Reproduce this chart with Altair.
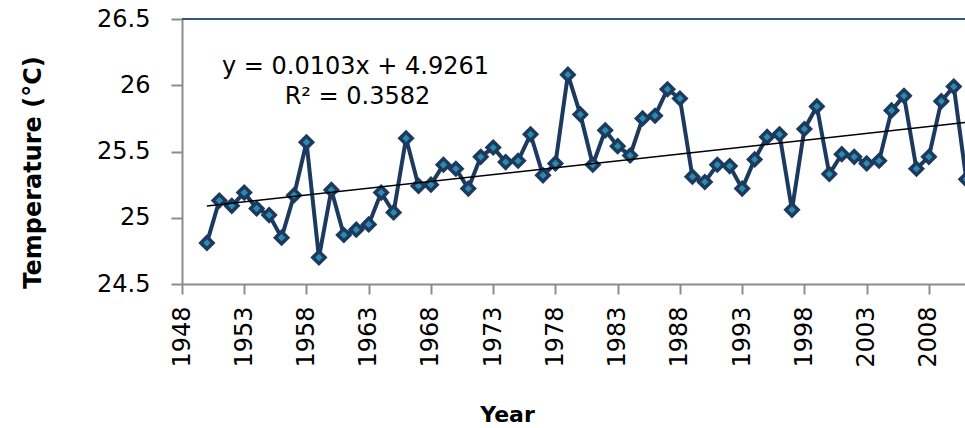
import altair as alt
import pandas as pd

# Annual mean temperature series
years = list(range(1950, 2012))
temps = [
    24.81, 25.13, 25.09, 25.19, 25.07, 25.02, 24.85, 25.17, 25.57, 24.70,
    25.21, 24.87, 24.91, 24.95, 25.19, 25.04, 25.60, 25.24, 25.25, 25.40,
    25.37, 25.22, 25.46, 25.53, 25.42, 25.43, 25.63, 25.32, 25.41, 26.08,
    25.78, 25.40, 25.66, 25.54, 25.47, 25.75, 25.77, 25.97, 25.90, 25.31,
    25.27, 25.40, 25.39, 25.22, 25.44, 25.61, 25.63, 25.06, 25.67, 25.84,
    25.33, 25.48, 25.46, 25.41, 25.43, 25.81, 25.92, 25.37, 25.46, 25.88,
    25.99, 25.29,
]
x_ticks = list(range(1948, 2009, 5))
y_ticks = [24.5, 25.0, 25.5, 26.0, 26.5]
eq_lines = ["y = 0.0103x + 4.9261", "R\u00b2 = 0.3582"]

df = pd.DataFrame({"Year": years, "Temp": temps})

W, H = 783, 265
FONT = "DejaVu Sans"
NAVY = "#1c3a5f"
TEAL = "#2b8caa"
GREY = "#8c8c8c"

x_scale = alt.Scale(domain=[1948, 2010.9], nice=False, zero=False)
y_scale = alt.Scale(domain=[24.5, 26.5], nice=False, zero=False)

x_enc = alt.X(
    "Year:Q", scale=x_scale,
    axis=alt.Axis(
        values=x_ticks, format="d", labelAngle=270, labelFontSize=24,
        labelFont=FONT, labelColor="#000000", labelPadding=12,
        tickSize=10, tickColor=GREY, tickWidth=2, domainColor=GREY,
        domainWidth=2, grid=False, title="Year", titleFont=FONT,
        titleFontSize=22, titleFontWeight="bold", titleColor="#000000",
        titleX=325, titleY=130, titleAlign="center", titleBaseline="middle",
        labelOverlap=False, labelFlush=False,
    ),
)
y_enc = alt.Y(
    "Temp:Q", scale=y_scale,
    axis=alt.Axis(
        values=y_ticks, format="~f", labelFontSize=24, labelFont=FONT,
        labelColor="#000000", labelPadding=21, tickSize=11, tickColor=GREY,
        tickWidth=2, domainColor=GREY, domainWidth=2, grid=False,
        title="Temperature (\u00b0C)", titleFont=FONT, titleFontSize=24,
        titleFontWeight="bold", titleColor="#000000", titleAngle=270,
        titleX=-149, titleY=153, titleAlign="center", titleBaseline="middle",
        labelOverlap=False, labelFlush=False,
    ),
)

base = alt.Chart(df)

line = base.mark_line(color=NAVY, strokeWidth=4, clip=True).encode(x=x_enc, y=y_enc)

points = base.mark_point(
    shape="diamond", filled=True, fill=TEAL, stroke=NAVY, strokeWidth=3.5,
    size=150, opacity=1, clip=True,
).encode(x="Year:Q", y="Temp:Q")

trend = base.transform_regression("Year", "Temp", method="linear").mark_line(
    color="#000000", strokeWidth=1.5, clip=True
).encode(x="Year:Q", y="Temp:Q")

top_border = alt.Chart(pd.DataFrame({"k": [0]})).mark_rule(
    color="#34577f", strokeWidth=2
).encode(x=alt.value(0), x2=alt.value(W), y=alt.value(0))

eq_df = pd.DataFrame({"label": eq_lines, "px": [173.5, 175.5], "py": [48, 78]})
equation = alt.Chart(eq_df).mark_text(
    font=FONT, fontSize=24, color="#000000", align="center", baseline="middle"
).encode(
    text="label:N",
    x=alt.X("px:Q", scale=None),
    y=alt.Y("py:Q", scale=None),
)

chart = (
    alt.layer(line, points, trend, top_border, equation)
    .properties(
        width=W, height=H,
        padding={"left": 182, "top": 19, "right": 0, "bottom": 144},
        autosize=alt.AutoSizeParams(type="none"),
        background="#ffffff",
    )
    .configure_view(stroke=None)
)

chart.save("out.html", embed_options={"renderer": "svg", "actions": False})
